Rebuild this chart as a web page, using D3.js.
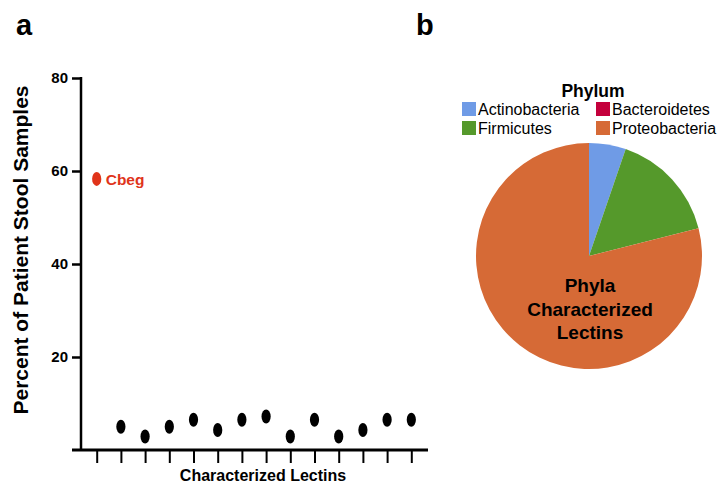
<!DOCTYPE html>
<html>
<head>
<meta charset="utf-8">
<script src="https://cdn.jsdelivr.net/npm/d3@7/dist/d3.min.js"></script>
<style>
  html, body { margin: 0; padding: 0; background: #fff; }
  svg { display: block; font-family: "Liberation Sans", Arial, Helvetica, sans-serif; }
</style>
</head>
<body>
<svg id="chart" width="719" height="485"></svg>
<script>
// ---------- Data ----------
const lectins = ["Cbeg","L2","L3","L4","L5","L6","L7","L8","L9","L10","L11","L12","L13","L14"];
const percentSamples = [58.3, 5.0, 2.9, 5.0, 6.5, 4.3, 6.5, 7.2, 2.9, 6.5, 2.9, 4.3, 6.5, 6.5];
const highlighted = ["Cbeg"];
const yTicks = [20, 40, 60, 80];

const phyla = ["Actinobacteria", "Bacteroidetes", "Firmicutes", "Proteobacteria"];
const phylaCounts = [1, 0, 3, 15];
const phylaColors = ["#6f9be6", "#c4003c", "#55992b", "#d66a36"];

// ---------- Setup ----------
const svg = d3.select("#chart");

// Panel labels
svg.append("text").attr("x", 16).attr("y", 35).attr("font-size", 29).attr("font-weight", "bold").text("a");
svg.append("text").attr("x", 416).attr("y", 35).attr("font-size", 29).attr("font-weight", "bold").text("b");

// ---------- Panel a: dot plot ----------
const y = d3.scaleLinear().domain([0, 80]).range([450, 78]);
const x = d3.scalePoint().domain(lectins).range([96.7, 411.3]);

const axisX0 = 81;

// Y axis
const yAxis = svg.append("g")
  .attr("transform", `translate(${axisX0},0)`)
  .call(d3.axisLeft(y).tickValues(yTicks).tickSize(9).tickPadding(4).tickSizeOuter(0));
yAxis.select(".domain").remove();
yAxis.append("line").attr("x1", 0).attr("x2", 0).attr("y1", y(80) - 1).attr("y2", y(0))
  .attr("stroke", "#000").attr("stroke-width", 2.5);
yAxis.selectAll(".tick line").attr("stroke", "#000").attr("stroke-width", 2.5);
yAxis.selectAll(".tick text").attr("font-size", 15).attr("font-weight", "bold").attr("fill", "#000")
  .attr("font-family", "Liberation Sans, Arial, sans-serif");

// X axis
const xAxis = svg.append("g")
  .attr("transform", `translate(0,${y(0)})`)
  .call(d3.axisBottom(x).tickSize(13).tickFormat("").tickSizeOuter(0));
xAxis.select(".domain").remove();
xAxis.append("line").attr("x1", 72).attr("x2", 428).attr("y1", 0).attr("y2", 0)
  .attr("stroke", "#000").attr("stroke-width", 3);
xAxis.selectAll(".tick line").attr("stroke", "#000").attr("stroke-width", 2);

// Axis titles
svg.append("text")
  .attr("transform", `translate(28,250) rotate(-90)`)
  .attr("text-anchor", "middle").attr("font-size", 21).attr("font-weight", "bold")
  .text("Percent of Patient Stool Samples");
svg.append("text")
  .attr("x", 263).attr("y", 481).attr("text-anchor", "middle")
  .attr("font-size", 16).attr("font-weight", "bold")
  .text("Characterized Lectins");

// Points
const pts = lectins.map((name, i) => ({ name, value: percentSamples[i] }));
svg.append("g").selectAll("ellipse").data(pts).join("ellipse")
  .attr("cx", d => x(d.name))
  .attr("cy", d => y(d.value))
  .attr("rx", 4.6).attr("ry", 7)
  .attr("fill", d => highlighted.includes(d.name) ? "#e0341a" : "#000");

// Highlight label
pts.filter(d => highlighted.includes(d.name)).forEach(d => {
  svg.append("text").attr("x", x(d.name) + 9).attr("y", y(d.value) + 6)
    .attr("font-size", 15.5).attr("font-weight", "bold").attr("fill", "#e0341a").text(d.name);
});

// ---------- Panel b: pie ----------
const cx = 589, cy = 256, r = 113;
const pieData = d3.pie().sort(null).value(d => d.count)
  (phyla.map((p, i) => ({ phylum: p, count: phylaCounts[i], color: phylaColors[i] })));
const arc = d3.arc().innerRadius(0).outerRadius(r);
svg.append("g").attr("transform", `translate(${cx},${cy})`)
  .selectAll("path").data(pieData).join("path")
  .attr("d", arc).attr("fill", d => d.data.color);

// Pie centre label
const pieLabel = ["Phyla", "Characterized", "Lectins"];
svg.append("text").attr("text-anchor", "middle").attr("font-size", 19).attr("font-weight", "bold")
  .selectAll("tspan").data(pieLabel).join("tspan")
  .attr("x", 590).attr("y", (d, i) => 292 + i * 23.5).text(d => d);

// Legend
svg.append("text").attr("x", 593).attr("y", 97).attr("text-anchor", "middle")
  .attr("font-size", 17.5).attr("font-weight", "bold").text("Phylum");
const legPos = [[462, 102], [596, 102], [462, 121], [596, 121]];
const leg = svg.append("g").selectAll("g").data(phyla).join("g")
  .attr("transform", (d, i) => `translate(${legPos[i][0]},${legPos[i][1]})`);
leg.append("rect").attr("width", 14).attr("height", 14).attr("fill", (d, i) => phylaColors[i]);
leg.append("text").attr("x", 16).attr("y", 13).attr("font-size", 16).text(d => d);
</script>
</body>
</html>
